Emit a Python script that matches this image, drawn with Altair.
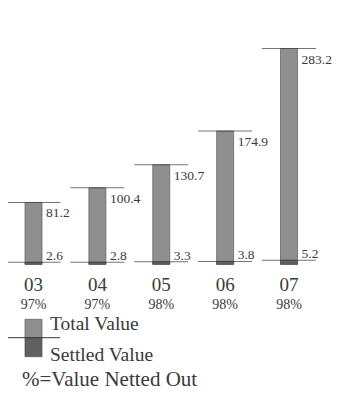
import altair as alt
import pandas as pd

years = ["03", "04", "05", "06", "07"]
total_value = [81.2, 100.4, 130.7, 174.9, 283.2]
settled_value = [2.6, 2.8, 3.3, 3.8, 5.2]
netted_pct = ["97%", "97%", "98%", "98%", "98%"]
legend_labels = ["Total Value", "Settled Value"]
note_text = ["%=Value Netted Out"]

df = pd.DataFrame({
    "year": years,
    "total": total_value,
    "settled": settled_value,
    "pct": netted_pct,
    "total_lbl": [f"{v:.1f}" for v in total_value],
    "settled_lbl": [f"{v:.1f}" for v in settled_value],
})

FONT = "'Liberation Serif', 'Times New Roman', serif"
TXT = "#3a3a3a"
LIGHT = "#8f8f8f"
DARK = "#616161"
LINE = "#3a3a3a"

xs = alt.X("year:N", scale=alt.Scale(type="point", range=[25.5, 281], padding=0), axis=None)
ys = alt.Scale(domain=[0, 300], range=[256.3, 27.7], nice=False, zero=False)

base = alt.Chart(df)

bars_total = base.mark_bar(size=17, color=LIGHT, stroke="#5a5a5a", strokeWidth=0.7).encode(
    x=xs,
    y=alt.Y("total:Q", scale=ys, axis=None),
    y2=alt.value(259),
)
bars_settled = base.mark_bar(size=17, color=DARK, stroke="#4a4a4a", strokeWidth=0.7).encode(
    x=xs,
    y=alt.Y("settled:Q", scale=ys, axis=None),
    y2=alt.value(259),
)
tick_total = base.mark_tick(size=54, thickness=1, color=LINE, orient="horizontal").encode(
    x=xs, y=alt.Y("total:Q", scale=ys, axis=None)
)
tick_settled = base.mark_tick(size=54, thickness=1, color=LINE, orient="horizontal").encode(
    x=xs, y=alt.Y("settled:Q", scale=ys, axis=None)
)
lbl_total = base.mark_text(align="left", baseline="middle", dx=12.5, dy=11, font=FONT, fontSize=13.5, color=TXT).encode(
    x=xs, y=alt.Y("total:Q", scale=ys, axis=None), text="total_lbl:N"
)
lbl_settled = base.mark_text(align="left", baseline="alphabetic", dx=12.5, dy=-2, font=FONT, fontSize=13.5, color=TXT).encode(
    x=xs, y=alt.Y("settled:Q", scale=ys, axis=None), text="settled_lbl:N"
)
lbl_year = base.mark_text(align="center", baseline="middle", font=FONT, fontSize=19, color=TXT).encode(
    x=xs, y=alt.value(277), text="year:N"
)
lbl_pct = base.mark_text(align="center", baseline="middle", font=FONT, fontSize=14, color=TXT).encode(
    x=xs, y=alt.value(296.5), text="pct:N"
)

leg = alt.Chart(pd.DataFrame({"label": legend_labels}))
leg_light = leg.transform_filter(alt.datum.label == legend_labels[0]).mark_rect(
    color=LIGHT, stroke="#5a5a5a", strokeWidth=0.7
).encode(x=alt.value(17), x2=alt.value(34), y=alt.value(311.3), y2=alt.value(329.7))
leg_dark = leg.transform_filter(alt.datum.label == legend_labels[1]).mark_rect(
    color=DARK, stroke="#4a4a4a", strokeWidth=0.7
).encode(x=alt.value(17), x2=alt.value(34), y=alt.value(329.7), y2=alt.value(348.7))
leg_line = leg.transform_filter(alt.datum.label == legend_labels[0]).mark_rule(
    color=LINE, strokeWidth=1
).encode(x=alt.value(-2), x2=alt.value(52), y=alt.value(329.7))
leg_t1 = leg.transform_filter(alt.datum.label == legend_labels[0]).mark_text(
    align="left", baseline="middle", font=FONT, fontSize=19.5, color=TXT
).encode(x=alt.value(42), y=alt.value(316), text="label:N")
leg_t2 = leg.transform_filter(alt.datum.label == legend_labels[1]).mark_text(
    align="left", baseline="middle", font=FONT, fontSize=19.5, color=TXT
).encode(x=alt.value(42), y=alt.value(347), text="label:N")

note = alt.Chart(pd.DataFrame({"t": note_text})).mark_text(
    align="left", baseline="alphabetic", font=FONT, fontSize=21, color=TXT
).encode(x=alt.value(14), y=alt.value(377.5), text="t:N")

chart = alt.layer(
    bars_total, bars_settled, tick_total, tick_settled, lbl_total, lbl_settled,
    lbl_year, lbl_pct, leg_light, leg_dark, leg_line, leg_t1, leg_t2, note,
).properties(
    width=324, height=383, autosize=alt.AutoSizeParams(type="none"), padding=0
).configure(background="white").configure_view(stroke=None)

chart.save("out.html", embed_options={"renderer": "svg", "actions": False})
